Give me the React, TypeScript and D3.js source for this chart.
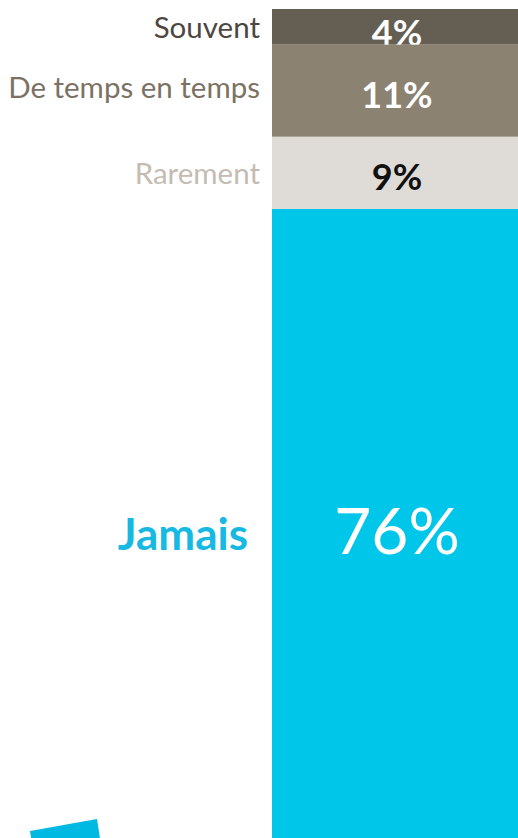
import React, { useEffect, useRef } from "react";
import * as d3 from "d3";

// answer categories, top to bottom
const categories = ["Souvent", "De temps en temps", "Rarement", "Jamais"];
// share of respondents (%), shown rounded
const shares = [4.3, 11.1, 8.7, 75.9];

const barColors = ["#655e53", "#8b8272", "#dfdbd6", "#00c6ea"];
const labelColors = ["#4d473f", "#7b7263", "#c4bcb2", "#17b9e2"];
const valueColors = ["#ffffff", "#ffffff", "#111111", "#ffffff"];
// small vertical nudges for the text (px)
const labelNudge = [1, -3, 1, 10];
const valueNudge = [6, 4, 4, 7];

const width = 518;
const height = 838;
const font = "Lato, 'Open Sans', sans-serif";
const CAP = 0.7165;

const App = () => {
  const ref = useRef<SVGSVGElement>(null);

  useEffect(() => {
    const svg = d3.select(ref.current);
    svg.selectAll("*").remove();

    const y = d3.scaleLinear().domain([0, 100]).range([9, 839]);
    const x0 = 272;
    const x1 = 524;
    const fmt = d3.format(".0f");

    let acc = 0;
    const segs = shares.map((v, i) => {
      const s = { i, cat: categories[i], v, y0: acc, y1: acc + v };
      acc += v;
      return s;
    });

    // each segment: rect then its value label, so the next rect may cover it
    segs.forEach(s => {
      const g = svg.append("g");
      g.append("rect")
        .attr("x", x0)
        .attr("y", y(s.y0))
        .attr("width", x1 - x0)
        .attr("height", y(s.y1) - y(s.y0))
        .attr("fill", barColors[s.i]);
      const big = s.i === 3;
      const size = big ? 64 : 36;
      const mid = (y(s.y0) + y(s.y1)) / 2;
      g.append("text")
        .attr("x", (x0 + x1) / 2 - 1)
        .attr("y", mid + (size * CAP) / 2 + valueNudge[s.i])
        .attr("text-anchor", "middle")
        .style("font-family", font)
        .style("font-weight", big ? 400 : 700)
        .style("font-size", size + "px")
        .style("fill", valueColors[s.i])
        .text(fmt(s.v) + "%");
    });

    // category labels on the left
    segs.forEach(s => {
      const big = s.i === 3;
      const size = big ? 44 : 29.5;
      const mid = (y(s.y0) + y(s.y1)) / 2;
      svg.append("text")
        .attr("x", big ? 248 : 260)
        .attr("y", mid + (size * CAP) / 2 + labelNudge[s.i])
        .attr("text-anchor", "end")
        .style("font-family", font)
        .style("font-weight", big ? 700 : 400)
        .style("font-size", size + "px")
        .style("fill", labelColors[s.i])
        .text(s.cat);
    });

    // decorative tilted shape, bottom left
    svg.append("polygon")
      .attr("points", "30,831 97,819 101,845 34,857")
      .attr("fill", "#00b9e2");
  }, []);

  return (
    <svg
      ref={ref}
      width={width}
      height={height}
      style={{ position: "absolute", left: 0, top: 0, background: "#fff" }}
    />
  );
};

export default App;
